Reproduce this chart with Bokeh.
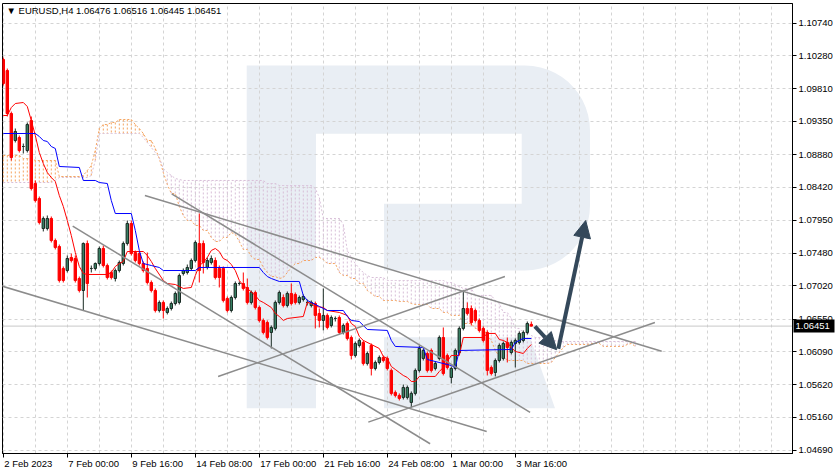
import numpy as np
from bokeh.plotting import figure
from bokeh.core.properties import value
from bokeh.models import (Range1d, FixedTicker, NumeralTickFormatter, LinearAxis,
                          Label, Span, Arrow, NormalHead)
from bokeh.embed import file_html
from bokeh.resources import INLINE

# ---------------- data (EURUSD, H4) ----------------
opens = [1.10226, 1.10070, 1.09461, 1.09079, 1.09121, 1.08994, 1.08937, 1.09362, 1.08470, 1.08258,
         1.07833, 1.07833, 1.07975, 1.07663, 1.07578, 1.07267, 1.07238, 1.07423, 1.07408, 1.07125,
         1.06955, 1.07621, 1.07267, 1.07267, 1.07337, 1.07550, 1.07309, 1.07210, 1.07125, 1.07238,
         1.07337, 1.07621, 1.07904, 1.07493, 1.07479, 1.07337, 1.07267, 1.07068, 1.06955, 1.06672,
         1.06786, 1.06644, 1.06700, 1.06771, 1.06786, 1.07196, 1.07210, 1.07267, 1.07380, 1.07621,
         1.07621, 1.07281, 1.07352, 1.07380, 1.07267, 1.07267, 1.06842, 1.06672, 1.06856, 1.07054,
         1.07054, 1.06998, 1.06786, 1.06927, 1.06715, 1.06531, 1.06502, 1.06361, 1.06418, 1.06786,
         1.06856, 1.06743, 1.06913, 1.06899, 1.06786, 1.06828, 1.06786, 1.06743, 1.06771, 1.06630,
         1.06531, 1.06602, 1.06460, 1.06559, 1.06573, 1.06361, 1.06488, 1.06290, 1.06035, 1.06177,
         1.06219, 1.05922, 1.06177, 1.05851, 1.05936, 1.06007, 1.05993, 1.05823, 1.05512, 1.05469,
         1.05441, 1.05441, 1.05370, 1.05498, 1.05823, 1.05993, 1.06063, 1.06106, 1.05851, 1.05993,
         1.06290, 1.06035, 1.05724, 1.05851, 1.06077, 1.06418, 1.06700, 1.06700, 1.06672, 1.06531,
         1.06418, 1.06361, 1.05865, 1.05794, 1.05964, 1.05993, 1.06220, 1.06077, 1.06205, 1.06220,
         1.06248, 1.06361, 1.06476]
highs = [1.10254, 1.10098, 1.09489, 1.09249, 1.09150, 1.09036, 1.09334, 1.09419, 1.08513, 1.08286,
         1.08003, 1.08017, 1.08003, 1.07691, 1.07606, 1.07295, 1.07451, 1.07479, 1.07451, 1.07153,
         1.07635, 1.07663, 1.07309, 1.07352, 1.07578, 1.07592, 1.07337, 1.07238, 1.07267, 1.07380,
         1.07649, 1.07946, 1.07946, 1.07521, 1.07507, 1.07366, 1.07493, 1.07097, 1.06984, 1.06814,
         1.06814, 1.06729, 1.06799, 1.06941, 1.07196, 1.07267, 1.07323, 1.07408, 1.07663, 1.08045,
         1.07663, 1.07423, 1.07451, 1.07423, 1.07309, 1.07295, 1.06870, 1.06884, 1.07083, 1.07083,
         1.07210, 1.07125, 1.06955, 1.06955, 1.06743, 1.06559, 1.06531, 1.06460, 1.06814, 1.06955,
         1.06899, 1.06941, 1.07054, 1.06927, 1.06884, 1.06899, 1.06828, 1.06814, 1.06799, 1.06700,
         1.06984, 1.06630, 1.06602, 1.06588, 1.06602, 1.06488, 1.06516, 1.06318, 1.06233, 1.06276,
         1.06248, 1.06092, 1.06205, 1.05964, 1.06035, 1.06035, 1.06021, 1.05851, 1.05540, 1.05498,
         1.05624, 1.05610, 1.05526, 1.05851, 1.06177, 1.06134, 1.06092, 1.06134, 1.05950, 1.06318,
         1.06432, 1.06063, 1.05879, 1.06134, 1.06446, 1.06955, 1.06786, 1.06743, 1.06700, 1.06559,
         1.06446, 1.06390, 1.05893, 1.05993, 1.06205, 1.06233, 1.06290, 1.06248, 1.06276, 1.06375,
         1.06390, 1.06516, 1.06516]
lows = [1.09858, 1.09419, 1.08796, 1.09051, 1.08909, 1.08895, 1.08909, 1.08371, 1.08201, 1.07890,
        1.07791, 1.07805, 1.07635, 1.07536, 1.07068, 1.07068, 1.07210, 1.07352, 1.07068, 1.06927,
        1.06672, 1.06856, 1.07210, 1.07238, 1.07309, 1.07281, 1.07111, 1.07111, 1.07083, 1.07210,
        1.07309, 1.07592, 1.07451, 1.07352, 1.07309, 1.07210, 1.07040, 1.06927, 1.06644, 1.06644,
        1.06559, 1.06616, 1.06672, 1.06743, 1.06757, 1.07167, 1.07182, 1.07238, 1.07352, 1.07068,
        1.07196, 1.07253, 1.07323, 1.07111, 1.06998, 1.06786, 1.06644, 1.06644, 1.06828, 1.07026,
        1.06955, 1.06757, 1.06757, 1.06686, 1.06502, 1.06333, 1.06262, 1.06134, 1.06390, 1.06757,
        1.06715, 1.06715, 1.06743, 1.06757, 1.06757, 1.06799, 1.06743, 1.06715, 1.06418, 1.06432,
        1.06390, 1.06404, 1.06432, 1.06516, 1.06333, 1.06333, 1.06248, 1.05979, 1.06007, 1.06148,
        1.05893, 1.05893, 1.05752, 1.05823, 1.05908, 1.05936, 1.05823, 1.05469, 1.05441, 1.05398,
        1.05412, 1.05412, 1.05299, 1.05469, 1.05794, 1.05964, 1.05794, 1.05794, 1.05823, 1.05964,
        1.05752, 1.05837, 1.05639, 1.05823, 1.06049, 1.06390, 1.06602, 1.06460, 1.06502, 1.06361,
        1.06219, 1.05752, 1.05752, 1.05738, 1.05936, 1.05964, 1.05936, 1.06049, 1.05865, 1.06191,
        1.06220, 1.06333, 1.06445]
closes = [1.09886, 1.09461, 1.08838, 1.09206, 1.08937, 1.08994, 1.09305, 1.08399, 1.08229, 1.07918,
          1.07975, 1.07975, 1.07663, 1.07564, 1.07097, 1.07097, 1.07408, 1.07380, 1.07097, 1.06955,
          1.07621, 1.07054, 1.07267, 1.07337, 1.07550, 1.07309, 1.07139, 1.07139, 1.07238, 1.07352,
          1.07621, 1.07904, 1.07479, 1.07380, 1.07337, 1.07238, 1.07068, 1.06955, 1.06672, 1.06786,
          1.06672, 1.06700, 1.06771, 1.06913, 1.07167, 1.07238, 1.07281, 1.07380, 1.07635, 1.07238,
          1.07352, 1.07380, 1.07408, 1.07139, 1.07139, 1.06814, 1.06672, 1.06856, 1.07054, 1.07054,
          1.06984, 1.06786, 1.06927, 1.06715, 1.06531, 1.06361, 1.06290, 1.06432, 1.06786, 1.06927,
          1.06743, 1.06913, 1.06771, 1.06786, 1.06856, 1.06870, 1.06786, 1.06786, 1.06602, 1.06531,
          1.06602, 1.06432, 1.06573, 1.06559, 1.06361, 1.06460, 1.06276, 1.06035, 1.06205, 1.06248,
          1.05922, 1.06063, 1.05851, 1.05936, 1.06007, 1.05964, 1.05851, 1.05498, 1.05469, 1.05427,
          1.05582, 1.05582, 1.05498, 1.05823, 1.06134, 1.06106, 1.05823, 1.05823, 1.05922, 1.06290,
          1.05780, 1.05865, 1.05851, 1.06106, 1.06418, 1.06700, 1.06630, 1.06502, 1.06531, 1.06390,
          1.06248, 1.05823, 1.05780, 1.05964, 1.06177, 1.06205, 1.06148, 1.06220, 1.06248, 1.06347,
          1.06361, 1.06488, 1.06451]

# Ichimoku: Tenkan-sen (red) and Kijun-sen (blue), vertices
tenkan_idx = [0, 1, 2, 3, 5, 6, 7, 8, 9, 10, 11, 12, 13, 14, 15, 16, 17, 18, 19, 20,
              21, 26, 27, 28, 29, 30, 31, 35, 36, 37, 38, 40, 41, 43, 45, 47, 48, 49, 50, 51,
              52, 53, 54, 55, 56, 57, 58, 59, 60, 61, 63, 64, 65, 67, 68, 69, 70, 71, 75, 76,
              77, 78, 80, 81, 84, 86, 87, 88, 89, 90, 92, 94, 95, 96, 97, 98, 99, 100, 101, 102,
              103, 104, 108, 109, 110, 111, 112, 114, 115, 120, 121, 123, 124, 125, 126, 127, 128, 130, 131, 132]
tenkan_val = [1.09433, 1.09433, 1.09546, 1.09603, 1.09617, 1.09560, 1.09362, 1.09150, 1.08909, 1.08753,
              1.08626, 1.08555, 1.08498, 1.08300, 1.08145, 1.07946, 1.07734, 1.07493, 1.07295, 1.07196,
              1.07182, 1.07182, 1.07210, 1.07295, 1.07337, 1.07366, 1.07507, 1.07507, 1.07451, 1.07366,
              1.07267, 1.07097, 1.07054, 1.07040, 1.06984, 1.06998, 1.07167, 1.07309, 1.07352, 1.07423,
              1.07522, 1.07550, 1.07507, 1.07408, 1.07380, 1.07323, 1.07238, 1.07097, 1.07026, 1.06984,
              1.06885, 1.06814, 1.06786, 1.06715, 1.06630, 1.06587, 1.06531, 1.06559, 1.06587, 1.06786,
              1.06771, 1.06729, 1.06715, 1.06672, 1.06644, 1.06602, 1.06488, 1.06446, 1.06304, 1.06248,
              1.06191, 1.06134, 1.06021, 1.05993, 1.05879, 1.05837, 1.05794, 1.05752, 1.05724, 1.05667,
              1.05667, 1.05738, 1.05738, 1.05808, 1.05865, 1.05950, 1.06035, 1.06035, 1.06290, 1.06290,
              1.06347, 1.06347, 1.06261, 1.06248, 1.06219, 1.06148, 1.06092, 1.06063, 1.06134, 1.06191]
kijun_idx = [0, 8, 9, 10, 11, 12, 13, 14, 19, 20, 23, 24, 26, 27, 28, 32, 33, 34, 35, 37,
             39, 40, 48, 49, 64, 65, 66, 67, 69, 74, 75, 76, 77, 79, 81, 85, 86, 87, 89, 90,
             91, 96, 97, 98, 105, 106, 112, 113, 114, 127, 128, 130, 132]
kijun_val = [1.09178, 1.09178, 1.09136, 1.09079, 1.09065, 1.08994, 1.08966, 1.08711, 1.08697, 1.08513,
             1.08513, 1.08484, 1.08470, 1.08229, 1.08045, 1.08045, 1.07805, 1.07522, 1.07337, 1.07309,
             1.07281, 1.07238, 1.07238, 1.07281, 1.07281, 1.07210, 1.07153, 1.07125, 1.07083, 1.07083,
             1.06885, 1.06814, 1.06786, 1.06729, 1.06672, 1.06672, 1.06587, 1.06531, 1.06516, 1.06460,
             1.06403, 1.06390, 1.06248, 1.06163, 1.06148, 1.05978, 1.05893, 1.05865, 1.06106, 1.06120,
             1.06219, 1.06276, 1.06276]

# Senkou Span A (sandy brown) and Span B (thistle), one value per bar (shifted 26 bars ahead)
span_a = [1.08867, 1.08867, 1.08867, 1.08867, 1.08867, 1.08824, 1.08824, 1.08824, 1.08796, 1.08796,
          1.08796, 1.08796, 1.08796, 1.08796, 1.08569, 1.08569, 1.08569, 1.08569, 1.08569, 1.08569,
          1.08584, 1.08654, 1.08725, 1.08937, 1.09249, 1.09305, 1.09305, 1.09334, 1.09334, 1.09376,
          1.09376, 1.09376, 1.09376, 1.09305, 1.09249, 1.09178, 1.09079, 1.09079, 1.08966, 1.08824,
          1.08626, 1.08456, 1.08329, 1.08329, 1.08145, 1.08017, 1.07946, 1.07946, 1.07876, 1.07876,
          1.07805, 1.07805, 1.07706, 1.07649, 1.07649, 1.07706, 1.07706, 1.07777, 1.07748, 1.07649,
          1.07536, 1.07536, 1.07437, 1.07394, 1.07394, 1.07281, 1.07210, 1.07153, 1.07153, 1.07125,
          1.07139, 1.07210, 1.07281, 1.07337, 1.07337, 1.07380, 1.07380, 1.07380, 1.07423, 1.07423,
          1.07394, 1.07337, 1.07337, 1.07337, 1.07210, 1.07167, 1.07167, 1.07125, 1.07125, 1.07054,
          1.07054, 1.06955, 1.06913, 1.06870, 1.06870, 1.06814, 1.06814, 1.06814, 1.06814, 1.06799,
          1.06799, 1.06799, 1.06771, 1.06757, 1.06757, 1.06757, 1.06757, 1.06700, 1.06700, 1.06700,
          1.06644, 1.06644, 1.06602, 1.06602, 1.06602, 1.06488, 1.06488, 1.06488, 1.06418, 1.06418,
          1.06418, 1.06318, 1.06248, 1.06106, 1.06021, 1.06021, 1.05964, 1.05964, 1.05964, 1.05964,
          1.05964, 1.05922, 1.05922, 1.05922, 1.05922, 1.05922, 1.05922, 1.05936, 1.06007, 1.06077,
          1.06148, 1.06191, 1.06191, 1.06191, 1.06191, 1.06191, 1.06191, 1.06205, 1.06205, 1.06205,
          1.06163, 1.06163, 1.06163, 1.06163, 1.06163, 1.06163, 1.06191, 1.06205, 1.06163]
span_b = [1.08484, 1.08484, 1.08484, 1.08484, 1.08484, 1.08484, 1.08484, 1.08484, 1.08484, 1.08484,
          1.08484, 1.08484, 1.08484, 1.08513, 1.08555, 1.08555, 1.08555, 1.08555, 1.08555, 1.08555,
          1.08555, 1.08555, 1.08584, 1.08796, 1.09178, 1.09178, 1.09178, 1.09178, 1.09178, 1.09178,
          1.09178, 1.09178, 1.09178, 1.09178, 1.09178, 1.09121, 1.09051, 1.08980, 1.08909, 1.08838,
          1.08682, 1.08626, 1.08584, 1.08541, 1.08527, 1.08513, 1.08513, 1.08513, 1.08513, 1.08513,
          1.08513, 1.08513, 1.08513, 1.08513, 1.08513, 1.08513, 1.08513, 1.08513, 1.08513, 1.08513,
          1.08513, 1.08513, 1.08513, 1.08513, 1.08513, 1.08513, 1.08470, 1.08470, 1.08470, 1.08442,
          1.08442, 1.08442, 1.08442, 1.08442, 1.08442, 1.08442, 1.08442, 1.08442, 1.08399, 1.08272,
          1.07975, 1.07975, 1.07975, 1.07975, 1.07975, 1.07890, 1.07522, 1.07423, 1.07337, 1.07267,
          1.07210, 1.07167, 1.07139, 1.07139, 1.07139, 1.07139, 1.07097, 1.07097, 1.07097, 1.07097,
          1.07097, 1.07097, 1.07097, 1.07097, 1.07097, 1.07097, 1.07097, 1.07097, 1.07097, 1.07097,
          1.07097, 1.07068, 1.07068, 1.07040, 1.07012, 1.06984, 1.06984, 1.06984, 1.06885, 1.06885,
          1.06885, 1.06885, 1.06885, 1.06814, 1.06771, 1.06644, 1.06644, 1.06559, 1.06418, 1.06418,
          1.06361, 1.06361, 1.06318, 1.06290, 1.06290, 1.06290, 1.06248, 1.06248, 1.06248, 1.06233,
          1.06233, 1.06233, 1.06233, 1.06233, 1.06233, 1.06233, 1.06233, 1.06233, 1.06233, 1.06233,
          1.06233, 1.06233, 1.06233, 1.06233, 1.06233, 1.06233, 1.06233, 1.06233, 1.06233]

# analyst drawings: trend lines and forecast arrows (bar index, price)
trend_x0 = [-0.83, 17.35, 35.4, 42.1, 53.7, 91.25]
trend_y0 = [1.07026, 1.07866, 1.08300, 1.08324, 1.05738, 1.05091]
trend_x1 = [120.85, 106.7, 164.6, 131.7, 125.4, 162.9]
trend_y1 = [1.04959, 1.04785, 1.06096, 1.05228, 1.07153, 1.06502]
arrow_x0 = [132.9, 138.75]
arrow_y0 = [1.06446, 1.06130]
arrow_x1 = [138.35, 145.6]
arrow_y1 = [1.06116, 1.07946]

# axes
time_tick_idx = [0, 16, 32, 48, 64, 80, 96, 112, 128]
time_tick_labels = ["2 Feb 2023", "7 Feb 00:00", "9 Feb 16:00", "14 Feb 08:00", "17 Feb 00:00",
                    "21 Feb 16:00", "24 Feb 08:00", "1 Mar 00:00", "3 Mar 16:00"]
price_ticks = [1.04690, 1.05160, 1.05620, 1.06090, 1.06550, 1.07020, 1.07480,
               1.07950, 1.08420, 1.08880, 1.09350, 1.09810, 1.10280, 1.10740]
last_price = 1.06451
last_price_text = "1.06451"
header_text = "\u25bc EURUSD,H4  1.06476 1.06516 1.06445 1.06451"

# ---------------- styling ----------------
FONT = "Liberation Sans"
FS = "9.5px"
UP_FILL = "#367f62"
UP_LINE = "#1a2b24"
DN = "#ff0000"
SANDY = "#f4a460"
THISTLE = "#d8bfd8"
TREND = "#8c8c8c"
ARROW = "#34485a"
WM = "#e9eef4"

X0, X1 = -0.2, 197.3
Y0, Y1 = 1.04647, 1.11019
FW, FH = 790, 450

p = figure(frame_width=FW, frame_height=FH, x_range=Range1d(X0, X1), y_range=Range1d(Y0, Y1),
           y_axis_location="right", toolbar_location=None, output_backend="svg",
           min_border_left=2, min_border_top=3, min_border_right=0, min_border_bottom=0,
           background_fill_color="white", border_fill_color="white")
p.outline_line_color = "black"
p.outline_line_width = 1

ppb = FW / (X1 - X0)   # pixels per bar


# watermark logo (decorative "R"), defined in reference pixel space
def wx(x):
    return (x - 3.3) / 4.0


def wy(y):
    return 1.11061 - 0.00014158 * y


t1 = np.linspace(-np.pi / 2, 0, 14)
t2 = np.linspace(0, np.pi / 2, 14)
outline = [(246.7, 65)] + [(525 + 65 * np.cos(t), 130 + 65 * np.sin(t)) for t in t1] + \
          [(525 + 65 * np.cos(t), 205 + 65 * np.sin(t)) for t in t2] + \
          [(384, 270), (384, 203.3), (521.7, 203.3), (521.7, 133.3), (316, 133.3),
           (316, 407.7), (246.7, 407.7)]
leg = [(384, 336.7), (530, 336.7), (555, 407.7), (384, 407.7)]
for shape in (outline, leg):
    p.patch([wx(a) for a, b in shape], [wy(b) for a, b in shape],
            fill_color=WM, line_color=None, level="image")

# grid
p.xgrid[0].ticker = FixedTicker(ticks=list(range(0, 200, 8)))
p.ygrid[0].ticker = FixedTicker(ticks=price_ticks)
for g in (p.xgrid[0], p.ygrid[0]):
    g.grid_line_color = "#d4d4d4"
    g.grid_line_dash = "3 3"
    g.grid_line_width = 1

# current price line
p.add_layout(Span(location=last_price, dimension="width", line_color="#c8c8c8",
                  line_width=1, level="underlay"))

# Ichimoku cloud (vertical dotted hatch per bar)
a = np.array(span_a)
b = np.array(span_b)
ci = np.arange(len(a))
cloud_colors = [SANDY if aa >= bb else THISTLE for aa, bb in zip(a, b)]
p.segment(x0=ci, y0=a, x1=ci, y1=b, line_color=cloud_colors, line_dash="2 2", line_width=1)
p.line(ci, a, line_color=SANDY, line_dash="2 2", line_width=1)
p.line(ci, b, line_color=THISTLE, line_dash="2 2", line_width=1)

# candles
o = np.array(opens)
c = np.array(closes)
idx = np.arange(len(o))
up = c >= o
fills = [UP_FILL if u else DN for u in up]
lines = [UP_LINE if u else DN for u in up]
p.segment(x0=idx, y0=lows, x1=idx, y1=highs, line_color=lines, line_width=1)
p.vbar(x=idx, width=0.6, top=np.maximum(o, c), bottom=np.minimum(o, c),
       fill_color=fills, line_color=lines, line_width=1)

# Tenkan / Kijun
p.line(tenkan_idx, tenkan_val, line_color="#ff0000", line_width=1)
p.line(kijun_idx, kijun_val, line_color="#0000ff", line_width=1)

# trend lines
p.segment(x0=trend_x0, y0=trend_y0, x1=trend_x1, y1=trend_y1, line_color=TREND, line_width=1.5)

# arrows
for xs, ys, xe, ye in zip(arrow_x0, arrow_y0, arrow_x1, arrow_y1):
    p.add_layout(Arrow(end=NormalHead(size=17, fill_color=ARROW, line_color=ARROW),
                       x_start=xs, y_start=ys, x_end=xe, y_end=ye,
                       line_color=ARROW, line_width=4))

# right price axis
ya = p.yaxis[0]
ya.ticker = FixedTicker(ticks=price_ticks)
ya.formatter = NumeralTickFormatter(format="0.00000")
ya.major_tick_out = 4
ya.major_tick_in = 0
ya.minor_tick_out = 0
ya.minor_tick_in = 0
ya.major_label_standoff = 2
ya.major_label_text_font = FONT
ya.major_label_text_font_size = FS
ya.major_label_text_color = "black"
ya.axis_line_color = "black"
ya.major_tick_line_color = "black"

# current price tag on the price scale (overlay level, drawn outside the frame)
tag_x = X1 + 21.5 / ppb
p.rect(x=[tag_x], y=[last_price], width=41, height=13, width_units="screen",
       height_units="screen", fill_color="black", line_color=None, level="overlay")
p.text(x=[X1], y=[last_price], text=[last_price_text], x_offset=3, text_baseline="middle",
       text_align="left", text_color="white", text_font=value(FONT), text_font_size=FS,
       level="overlay")

# bottom axis: tick marks only
xa = p.xaxis[0]
xa.ticker = FixedTicker(ticks=time_tick_idx)
xa.major_label_overrides = {t: "" for t in time_tick_idx}
xa.major_label_text_font_size = "0px"
xa.major_label_standoff = 0
xa.major_tick_out = 4
xa.major_tick_in = 0
xa.minor_tick_out = 0
xa.minor_tick_in = 0
xa.axis_line_color = "black"
xa.major_tick_line_color = "black"

# time labels, left-aligned at their ticks (MT4 style)
ARIAL_W = {" ": 0.278, ":": 0.278, "F": 0.611, "e": 0.556, "b": 0.556,
           "M": 0.833, "a": 0.556, "r": 0.333}
fs_num = 9.5


def text_w(s):
    return sum(ARIAL_W.get(ch, 0.556) for ch in s) * fs_num


label_pos = [round(t + (text_w(s) / 2 + 1) / ppb, 3) for t, s in zip(time_tick_idx, time_tick_labels)]
xl = LinearAxis(ticker=FixedTicker(ticks=label_pos),
                major_label_overrides=dict(zip(label_pos, time_tick_labels)),
                major_tick_out=0, major_tick_in=0, minor_tick_out=0, minor_tick_in=0,
                axis_line_color=None, major_label_standoff=0,
                major_label_text_font=FONT, major_label_text_font_size=FS,
                major_label_text_color="black")
p.add_layout(xl, "below")

# header
p.add_layout(Label(x=X0, y=wy(10), text=header_text, x_offset=4, text_baseline="middle",
                   text_align="left", text_font=FONT, text_font_size=FS, text_color="black"))

open("out.html", "w").write(file_html(p, INLINE))
